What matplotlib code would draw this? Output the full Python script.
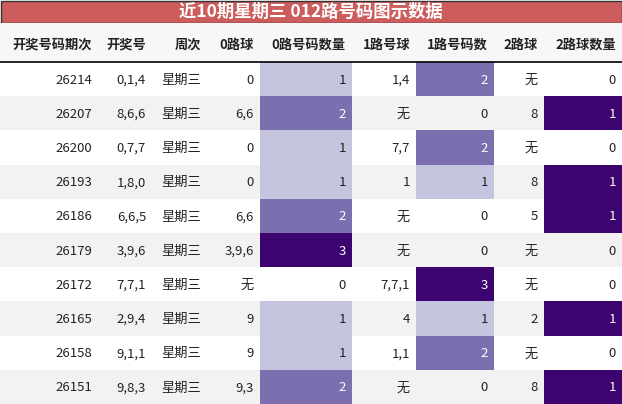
import matplotlib
matplotlib.use("Agg")
import matplotlib.pyplot as plt
from matplotlib.patches import Rectangle

plt.rcParams['font.family'] = ['Noto Sans CJK SC', 'DejaVu Sans']

title = "近10期星期三 012路号码图示数据"
headers = ["开奖号码期次", "开奖号", "周次", "0路球", "0路号码数量", "1路号球", "1路号码数", "2路球", "2路球数量"]
issues = ["26214", "26207", "26200", "26193", "26186", "26179", "26172", "26165", "26158", "26151"]
numbers = ["0,1,4", "8,6,6", "0,7,7", "1,8,0", "6,6,5", "3,9,6", "7,7,1", "2,9,4", "9,1,1", "9,8,3"]
weekday = ["星期三"] * 10
r0 = ["0", "6,6", "0", "0", "6,6", "3,9,6", "无", "9", "9", "9,3"]
c0 = [1, 2, 1, 1, 2, 3, 0, 1, 1, 2]
r1 = ["1,4", "无", "7,7", "1", "无", "无", "7,7,1", "4", "1,1", "无"]
c1 = [2, 0, 2, 1, 0, 0, 3, 1, 2, 0]
r2 = ["无", "8", "无", "8", "5", "无", "无", "2", "无", "8"]
c2 = [0, 1, 0, 1, 1, 0, 0, 1, 0, 1]

W, H = 622, 404
fig = plt.figure(figsize=(W/100, H/100), dpi=100)
ax = fig.add_axes([0, 0, 1, 1])
ax.set_xlim(0, W); ax.set_ylim(H, 0); ax.axis('off')

edges = [0, 98, 152, 207, 260, 352, 416, 494, 544, 622]
cmap = {0: None, 1: "#c5c5e0", 2: "#7b6fb0", 3: "#3d0470"}

ax.add_patch(Rectangle((0.5, 0.5), W-1, 22, facecolor="#cd5c5c", edgecolor="#333333", lw=1))
ax.text(W/2, 12, title, ha='center', va='center', color='white', fontsize=12.5, fontweight='bold')

ax.add_patch(Rectangle((0, 23), W, 39, facecolor="#f7f7f7", edgecolor='none'))
for i, h in enumerate(headers):
    ax.text(edges[i+1]-6, 45, h, ha='right', va='center', fontsize=9.5, fontweight='bold', color='#222222')
ax.plot([0, W], [62, 62], color='black', lw=1.2)

rh = (H - 62) / 10
cols = [issues, numbers, weekday, r0, c0, r1, c1, r2, c2]
countcols = {4: c0, 6: c1, 8: c2}
for r in range(10):
    y0 = 62 + r*rh
    bg = "#ffffff" if r % 2 == 0 else "#f2f2f2"
    ax.add_patch(Rectangle((0, y0), W, rh, facecolor=bg, edgecolor='none'))
    for ci, col in enumerate(cols):
        val = col[r]
        color = '#222222'
        if ci in countcols:
            level = round(val / max(col) * 3)
            c = cmap[level]
            if c:
                ax.add_patch(Rectangle((edges[ci], y0), edges[ci+1]-edges[ci], rh, facecolor=c, edgecolor='none'))
            if level >= 2:
                color = 'white'
        ax.text(edges[ci+1]-6, y0 + rh/2 + 1, str(val), ha='right', va='center', fontsize=9.5, color=color)

fig.savefig("out.png", dpi=100)
